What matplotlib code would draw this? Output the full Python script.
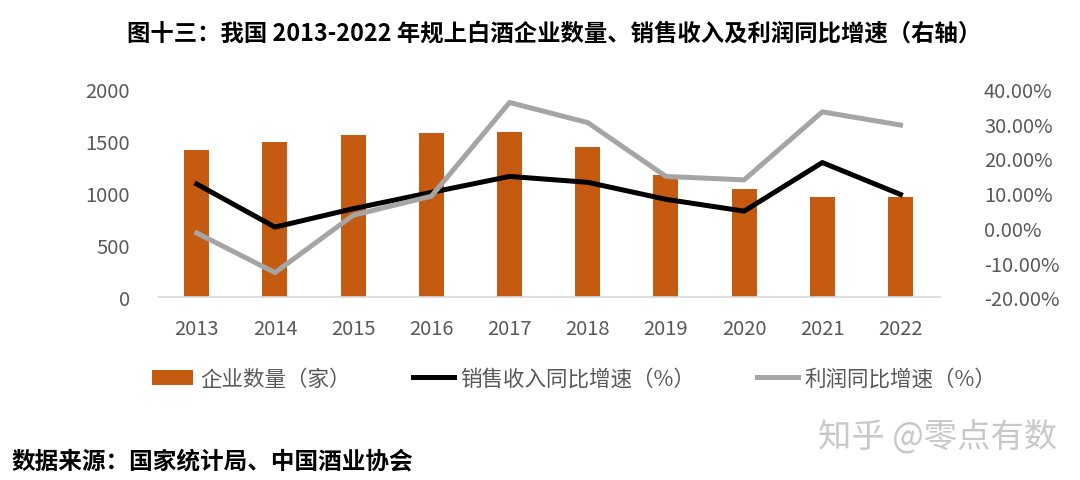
import matplotlib.pyplot as plt
from matplotlib.ticker import FuncFormatter

plt.rcParams['font.family'] = ['Noto Sans CJK SC', 'DejaVu Sans']

years = ['2013', '2014', '2015', '2016', '2017', '2018', '2019', '2020', '2021', '2022']
firms = [1416, 1493, 1558, 1574, 1590, 1439, 1173, 1038, 964, 964]
sales_growth = [12.6, 0.2, 5.5, 10.2, 14.8, 13.1, 8.2, 4.8, 18.8, 9.6]
profit_growth = [-1.5, -12.9, 3.6, 9.1, 36.1, 30.3, 14.8, 13.8, 33.4, 29.6]

tick_color = '#595959'

fig = plt.figure(figsize=(10.8, 4.81), dpi=100)
ax = fig.add_axes([0.146, 0.380, 0.724, 0.433])
x = list(range(len(years)))

bars = ax.bar(x, firms, width=0.32, color='#C55A11', zorder=2, label='企业数量（家）')
ax.set_ylim(0, 2000)
ax.set_yticks([0, 500, 1000, 1500, 2000])
ax.set_xlim(-0.5, len(years) - 0.5)
ax.set_xticks(x)
ax.set_xticklabels(years)
for s in ['top', 'right', 'left']:
    ax.spines[s].set_visible(False)
ax.spines['bottom'].set_color('#D9D9D9')
ax.spines['bottom'].set_linewidth(1.2)
ax.tick_params(axis='both', length=0, labelsize=14.5, colors=tick_color)
ax.tick_params(axis='x', pad=15)
ax.tick_params(axis='y', pad=20)

ax2 = ax.twinx()
l1, = ax2.plot(x, sales_growth, color='black', lw=3.6, zorder=3,
               label='销售收入同比增速（%）')
l2, = ax2.plot(x, profit_growth, color='#A5A5A5', lw=3.6, zorder=3,
               label='利润同比增速（%）')
ax2.set_ylim(-20, 40)
ax2.set_yticks([-20, -10, 0, 10, 20, 30, 40])
ax2.yaxis.set_major_formatter(FuncFormatter(lambda v, p: '%.2f%%' % v))
for s in ax2.spines.values():
    s.set_visible(False)
ax2.tick_params(axis='y', length=0, labelsize=14.5, colors=tick_color, pad=32)

fig.legend([bars, l1, l2], ['企业数量（家）', '销售收入同比增速（%）', '利润同比增速（%）'],
           loc='center', bbox_to_anchor=(0.532, 0.21), ncol=3, frameon=False,
           fontsize=15.5, labelcolor=tick_color, handlelength=1.9,
           handletextpad=0.3, columnspacing=2.9)

fig.text(0.513, 0.93, '图十三：我国 2013-2022 年规上白酒企业数量、销售收入及利润同比增速（右轴）',
         ha='center', va='center', fontsize=16.8, fontweight='bold')
fig.text(0.011, 0.04, '数据来源：国家统计局、中国酒业协会', ha='left', va='center',
         fontsize=17, fontweight='bold')
fig.text(0.868, 0.092, '知乎 @零点有数', ha='center', va='center',
         fontsize=24, color='#C8C8C8')

fig.savefig('out.png', dpi=100)
